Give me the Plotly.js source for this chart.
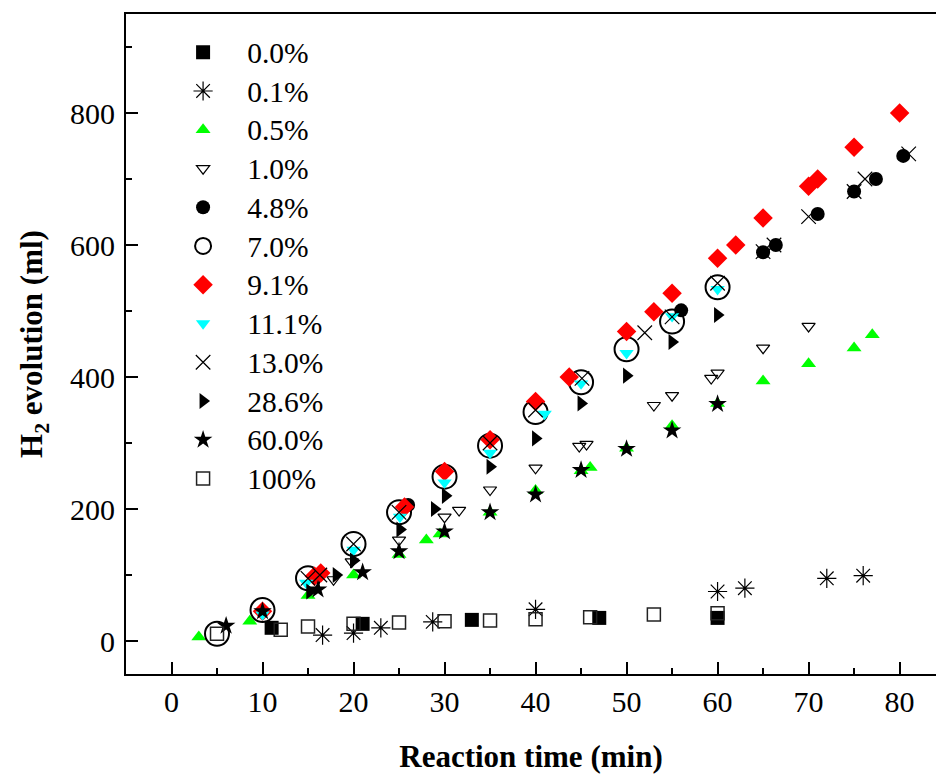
<!DOCTYPE html>
<html>
<head>
<meta charset="utf-8">
<script src="https://cdn.plot.ly/plotly-3.0.1.min.js"></script>
<style>html,body{margin:0;padding:0;background:#fff;}#chart{width:936px;height:774px;}</style>
</head>
<body>
<div id="chart"></div>
<script>
// Series names (loading %)
const seriesNames = ["0.0%", "0.1%", "0.5%", "1.0%", "4.8%", "7.0%", "9.1%", "11.1%", "13.0%", "28.6%", "60.0%", "100%"];

// Reaction time (min) and H2 evolution (ml) for each series
const x_00 = [11, 21, 33, 47, 60];
const y_00 = [20, 26, 32, 35, 35];

const x_01 = [16.6, 20, 23, 28.7, 40, 60, 63, 72, 76];
const y_01 = [9, 12, 20, 29, 48, 75, 80, 95, 99];

const x_05 = [3, 8.6, 15, 20, 25, 28, 29.5, 35, 40, 45, 46, 50, 55, 60, 65, 70, 75, 77];
const y_05 = [6, 30, 69, 100, 131, 153, 162, 195, 228, 258, 263, 292, 326, 360, 394, 420, 444, 464];

const x_10 = [17.8, 19.8, 25, 30, 31.6, 35, 40, 44.8, 45.6, 53, 55, 59.3, 60, 65, 70];
const y_10 = [93, 120, 153, 188, 198, 229, 262, 295, 298, 357, 372, 398, 406, 444, 477];

const x_48 = [26, 56, 65, 66.4, 71, 75, 77.4, 80.4];
const y_48 = [206, 501, 589, 600, 647, 681, 700, 735];

const x_70 = [5, 10, 15, 20, 25, 30, 35, 40, 45, 50, 55, 60];
const y_70 = [11, 47, 95, 147, 195, 249, 296, 347, 392, 442, 484, 536];

const x_91 = [10, 15.7, 16.4, 25.6, 30, 35, 40, 43.7, 50, 53, 55, 60, 62, 65, 70, 71, 75, 80];
const y_91 = [45, 98, 103, 203, 257, 305, 363, 400, 469, 499, 527, 580, 600, 641, 689, 700, 748, 800];

const x_111 = [10, 14.8, 20, 25.1, 30, 35, 41, 45, 50, 55, 60];
const y_111 = [40, 88, 138, 188, 240, 285, 344, 390, 436, 492, 533];

const x_130 = [15, 16.3, 20, 25, 35, 40, 45.1, 52, 55, 60, 65, 66.2, 70, 75, 76.2, 81];
const y_130 = [95, 100, 147, 195, 300, 350, 398, 467, 491, 542, 590, 600, 643, 681, 700, 738];

const x_286 = [15.2, 18.1, 20, 25.1, 28.9, 30.1, 35, 40, 45, 50, 55, 60];
const y_286 = [75, 100, 122, 169, 200, 220, 264, 307, 360, 402, 453, 494];

const x_600 = [6, 10, 16.1, 21, 25, 30, 35, 40, 45, 50, 55, 60];
const y_600 = [23, 45, 78, 104, 136, 166, 195, 222, 259, 291, 319, 359];

const x_1000 = [5, 12, 15, 20, 25, 30, 35, 40, 46, 53, 60];
const y_1000 = [11, 17, 22, 26, 28, 30, 31, 33, 36, 40, 42];

const xTicks = [0, 10, 20, 30, 40, 50, 60, 70, 80];
const yTicks = [0, 200, 400, 600, 800];

const xs = [x_00, x_01, x_05, x_10, x_48, x_70, x_91, x_111, x_130, x_286, x_600, x_1000];
const ys = [y_00, y_01, y_05, y_10, y_48, y_70, y_91, y_111, y_130, y_286, y_600, y_1000];

const styles = [
  {symbol: "square", size: 14, color: "#000000", lw: 0},
  {symbol: "asterisk-open", size: 16, color: "#000000", lw: 1.2},
  {symbol: "triangle-up", size: 13, color: "#00ff00", lw: 0},
  {symbol: "triangle-down-open", size: 11.5, color: "#000000", lw: 1.2},
  {symbol: "circle", size: 14, color: "#000000", lw: 0},
  {symbol: "circle-open", size: 24, color: "#000000", lw: 2},
  {symbol: "diamond", size: 15, color: "#ff0000", lw: 0},
  {symbol: "triangle-down", size: 12.5, color: "#00ffff", lw: 0},
  {symbol: "x-thin-open", size: 14.5, color: "#000000", lw: 1.2},
  {symbol: "triangle-right", size: 14, color: "#000000", lw: 0},
  {symbol: "star", size: 14, color: "#000000", lw: 0},
  {symbol: "square-open", size: 13, color: "#222222", lw: 1.5}
];

const NB = "\u00a0\u00a0\u00a0";

const traces = seriesNames.map((name, i) => ({
  type: "scatter",
  mode: "markers",
  name: '<span style="font-size:29.5px">' + NB + name + '</span>',
  x: xs[i],
  y: ys[i],
  marker: {
    symbol: styles[i].symbol,
    size: styles[i].size,
    color: styles[i].color,
    line: {color: styles[i].color, width: styles[i].lw}
  },
  cliponaxis: false
}));

const font = "Liberation Serif, Times New Roman, serif";

const layout = {
  width: 936,
  height: 774,
  margin: {l: 126, r: 0, t: 14, b: 100},
  paper_bgcolor: "#ffffff",
  plot_bgcolor: "#ffffff",
  font: {family: font, color: "#000000", size: 30},
  showlegend: true,
  legend: {
    x: 0.068, y: 0.979, xanchor: "left", yanchor: "top",
    bgcolor: "rgba(0,0,0,0)", borderwidth: 0,
    font: {family: font, size: 27.5, color: "#000000"},
    itemwidth: 34, tracegroupgap: 0
  },
  xaxis: {
    range: [-5, 84],
    tickvals: xTicks,
    ticktext: xTicks.map(String),
    ticks: "inside", ticklen: 12, tickwidth: 2, tickcolor: "#000000",
    minor: {dtick: 5, tick0: 0, ticks: "inside", ticklen: 6, tickwidth: 2, tickcolor: "#000000"},
    showline: true, linewidth: 2, linecolor: "#000000", mirror: true,
    showgrid: false, zeroline: false,
    tickfont: {family: font, size: 30, color: "#000000"},
    ticklabelstandoff: 0,
    title: {text: "<b>Reaction time (min)</b>", font: {family: font, size: 31, color: "#000000"}, standoff: 33}
  },
  yaxis: {
    range: [-50, 950],
    tickvals: yTicks,
    ticktext: yTicks.map(String),
    ticks: "inside", ticklen: 12, tickwidth: 2, tickcolor: "#000000",
    minor: {dtick: 100, tick0: 0, ticks: "inside", ticklen: 6, tickwidth: 2, tickcolor: "#000000"},
    showline: true, linewidth: 2, linecolor: "#000000", mirror: false,
    showgrid: false, zeroline: false,
    tickfont: {family: font, size: 30, color: "#000000"},
    ticklabelstandoff: 3,
    title: {text: "<b>H<sub>2</sub> evolution (ml)</b>", font: {family: font, size: 31, color: "#000000"}, standoff: 18}
  }
};

Plotly.newPlot("chart", traces, layout, {displayModeBar: false, staticPlot: true});
</script>
</body>
</html>
